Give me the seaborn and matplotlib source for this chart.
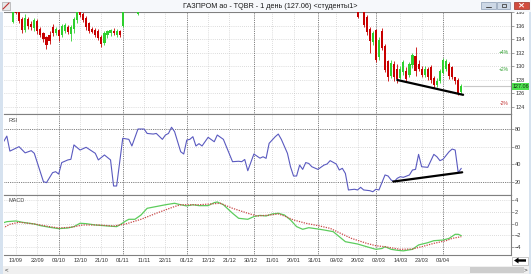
import matplotlib
matplotlib.use("Agg")
import matplotlib.pyplot as plt
import matplotlib.transforms as mtransforms
from matplotlib.patches import Rectangle, Polygon
import seaborn as sns

# ---------------- data ----------------
title = "ГАЗПРОМ ао - TQBR - 1 день (127.06) <студенты1>"
date_labels = ["13/09", "22/09", "03/10", "12/10", "21/10", "01/11", "11/11",
               "22/11", "01/12", "12/12", "21/12", "30/12", "11/01", "20/01",
               "31/01", "09/02", "20/02", "02/03", "14/03", "23/03", "03/04"]
label_idx = [0, 7, 14, 21, 28, 35, 42, 49, 56, 63, 70, 77, 84, 91, 98, 105,
             112, 119, 126, 133, 140]
month_idx = [14, 35, 56, 78, 99, 118, 140]

# visible candles (bar index, open, high, low, close)
candle_idx = [-1, 0, 1, 2, 3, 4, 5, 6, 7, 8, 9, 10, 11, 12, 13, 14, 15, 16, 17,
              18, 19, 20, 21, 22, 23, 24, 25, 26, 27, 28, 29, 30, 31, 32, 33,
              34, 35, 40,
              112, 114, 115, 116, 117, 118, 119, 120, 121, 122, 123, 124, 125,
              126, 127, 128, 129, 130, 131, 132, 133, 134, 135, 136, 137, 138,
              139, 140, 141, 142, 143, 144, 145, 146]
opens = [136.6, 138.6, 138.0, 137.0, 135.4, 137.1, 136.3, 135.7, 136.8, 135.5,
         134.9, 134.3, 134.6, 135.9, 134.9, 135.4, 134.6, 135.3, 135.9, 134.8,
         135.5, 136.9, 138.8, 137.7, 137.2, 136.4, 135.6, 135.4, 135.2, 134.4,
         133.5, 134.6, 134.9, 135.3, 134.7, 135.2, 136.0, 137.8,
         138.3, 138.6, 137.3, 135.6, 133.6, 135.4, 131.4, 135.3, 133.0, 130.8,
         128.6, 130.4, 129.7, 128.3, 129.2, 129.4, 128.8, 130.2, 131.6, 130.3,
         129.7, 128.7, 129.6, 129.9, 128.3, 127.2, 127.8, 129.1, 129.6, 130.4,
         129.9, 128.4, 128.0, 126.2]
highs = [138.8, 139.0, 138.3, 137.4, 137.8, 137.3, 136.8, 137.2, 137.0, 135.8,
         135.1, 134.5, 135.2, 136.3, 135.8, 135.6, 136.3, 136.4, 136.1, 136.2,
         137.4, 138.6, 139.1, 138.0, 137.5, 136.6, 135.9, 135.7, 135.5, 134.7,
         135.2, 135.4, 135.6, 135.7, 135.5, 135.4, 139.5, 139.4,
         138.6, 138.9, 137.6, 135.9, 135.3, 135.6, 134.3, 135.7, 133.4, 131.0,
         130.9, 130.8, 130.3, 130.0, 131.0, 129.9, 130.6, 132.0, 132.9, 131.0,
         130.1, 130.0, 129.9, 130.2, 128.6, 128.3, 129.6, 131.3, 131.1, 130.6,
         130.1, 128.5, 128.3, 127.4]
lows = [136.4, 137.7, 136.4, 134.9, 135.1, 135.6, 135.4, 135.3, 134.8, 134.3,
        133.6, 132.6, 133.3, 134.5, 134.6, 133.8, 134.3, 134.9, 134.8, 133.8,
        135.0, 136.4, 137.3, 136.6, 135.4, 135.0, 134.9, 134.4, 133.9, 132.9,
        133.2, 134.2, 134.5, 134.6, 134.4, 134.3, 135.9, 137.6,
        137.2, 135.9, 134.7, 132.0, 133.2, 130.6, 131.0, 132.4, 129.2, 127.9,
        128.3, 127.9, 127.6, 128.1, 128.8, 127.8, 128.5, 129.8, 128.6, 129.3,
        128.4, 128.4, 128.0, 127.6, 126.8, 126.9, 127.5, 128.9, 129.3, 128.2,
        128.2, 127.4, 125.8, 125.9]
closes = [138.4, 137.9, 136.8, 135.4, 137.2, 136.0, 135.8, 136.9, 135.2, 134.6,
          134.0, 133.2, 133.8, 135.0, 135.6, 134.5, 136.0, 136.1, 135.1, 135.9,
          137.1, 138.4, 137.6, 136.9, 135.8, 135.3, 135.1, 134.7, 134.2, 133.3,
          134.9, 135.2, 135.4, 134.9, 135.3, 134.6, 139.2, 139.1,
          137.4, 136.2, 135.1, 133.8, 135.0, 131.0, 133.9, 132.8, 129.5, 128.4,
          130.5, 128.5, 128.1, 129.6, 130.6, 128.1, 130.3, 131.7, 129.4, 129.7,
          128.7, 129.7, 128.4, 128.0, 127.2, 127.9, 129.3, 131.0, 130.8, 128.6,
          128.5, 127.8, 126.1, 127.06]
last_close = 127.06
pct_levels = [4, 2, -2]

price_trend_x = [125, 146.6]
price_trend_y = [128.0, 125.8]

rsi_idx = [-4, -3, -2, 1, 3, 5, 6, 9, 10, 12, 13, 14, 15, 17, 18, 19, 21, 23,
           26, 27, 29, 31, 32, 33, 35, 37, 38, 40, 42, 43, 45, 46, 48, 49, 50,
           51, 52, 54, 55, 56, 57, 58, 59, 60, 61, 63, 65, 66, 68, 71, 73, 74,
           75, 76, 78, 80, 81, 82, 83, 85, 86, 87, 89, 90, 91, 92, 93, 94, 95,
           96, 97, 99, 101, 102, 103, 105, 106, 107, 108, 109, 111, 112, 113,
           114, 116, 117, 118, 119, 121, 122, 123, 124, 125, 126, 127, 129,
           130, 131, 132, 133, 135, 137, 138, 139, 140, 142, 143, 144, 145, 146]
rsi_vals = [66, 72, 55, 60, 53, 55.5, 52.5, 20.4, 19.3, 30.6, 31.7, 29, 42, 45,
            45.7, 62, 56.2, 59.3, 52.5, 45, 50.6, 45, 15.5, 15.5, 69.5, 68.3,
            60.8, 80, 80, 75, 74.3, 75, 68.3, 73.2, 75, 82, 77, 54.3, 51.7,
            67.5, 68.3, 71.3, 60.8, 63.4, 60.8, 70.6, 65.6, 73.2, 68.3, 43,
            43.5, 43, 45.5, 32.8, 51.7, 47, 48.6, 46.8, 63.8, 71.3, 74.3, 68.3,
            52.5, 37.3, 26.8, 26.8, 39.2, 34.3, 42, 41, 37.3, 34.3, 39.2, 40.4,
            44.2, 40.4, 33.6, 35.5, 29.7, 11, 11.8, 11, 14, 11, 10.2, 9, 11.8,
            11, 28, 26.8, 22.3, 20.4, 24.2, 26, 25.3, 28, 33.6, 34.3, 51.3,
            37.3, 36.6, 51.3, 48.6, 44.2, 45.7, 54.3, 57.3, 56.2, 30.6, 35.5]
rsi_trend_x = [123.7, 146.3]
rsi_trend_y = [20.5, 31.0]

macd_idx = [-5, -3, 0, 2, 6, 8, 11, 14, 17, 19, 21, 23, 26, 30, 33, 34, 36, 37,
            39, 41, 43, 46, 49, 52, 54, 56, 58, 60, 63, 65, 66, 68, 71, 73, 76,
            78, 80, 82, 84, 86, 88, 90, 92, 94, 96, 99, 101, 104, 106, 108,
            112, 115, 118, 120, 121, 123, 125, 127, 130, 132, 135, 137, 140,
            142, 144, 145, 146]
macd_vals = [0.0, 0.34, 0.46, 0.24, -0.05, -0.33, -0.61, -0.84, -0.73, -0.5,
             0.07, 0.0, -0.22, -0.39, -0.5, -0.22, 0.46, 0.74, 0.74, 1.47, 2.6,
             2.9, 3.2, 3.45, 3.2, 3.0, 3.2, 3.05, 3.05, 3.56, 3.67, 3.2, 1.76,
             0.91, 0.74, 1.2, 1.4, 1.3, 1.64, 1.76, 1.47, 0.63, -0.5, -0.95,
             -0.68, -0.9, -1.07, -1.35, -2.2, -3.05, -3.44, -3.9, -4.34, -4.2,
             -3.9, -4.34, -4.5, -4.6, -4.34, -3.6, -3.22, -2.88, -2.77, -2.49,
             -1.8, -1.8, -2.03]
signal_idx = [-5, -2, 1, 6, 11, 14, 18, 22, 27, 32, 36, 41, 46, 52, 54, 60, 67,
              71, 76, 79, 83, 86, 88, 91, 95, 99, 103, 106, 110, 115, 118, 121,
              126, 130, 133, 137, 141, 143, 146]
signal_vals = [-0.95, -0.1, 0.24, -0.05, -0.5, -0.73, -0.61, -0.22, -0.22,
               -0.39, -0.05, 0.74, 1.76, 2.9, 3.2, 3.2, 3.45, 2.6, 1.76, 1.3,
               1.45, 1.64, 1.3, 0.63, 0.07, -0.33, -0.79, -1.53, -2.49, -3.33,
               -3.73, -3.9, -4.34, -4.28, -3.9, -3.33, -2.88, -2.49, -2.2]

price_ticks = [124, 126, 128, 130, 132, 134, 136, 138]
rsi_ticks = [20, 40, 60, 80]
macd_ticks = [-4, -2, 0, 2, 4]

# ---------------- style ----------------
sns.set_style("white")
plt.rcParams['font.family'] = ['Liberation Sans', 'DejaVu Sans']

GREEN = "#2ed02e"
RED = "#c80000"
GRID = "#bdbdbd"
HEAVY = "#555555"

fig = plt.figure(figsize=(5.31, 2.74), dpi=100)
fig.patch.set_facecolor("white")
L, W = 4 / 531, 507 / 531
ax_p = fig.add_axes([L, 1 - 114 / 274, W, 102 / 274])
ax_r = fig.add_axes([L, 1 - 195 / 274, W, 81 / 274], sharex=ax_p)
ax_m = fig.add_axes([L, 1 - 255 / 274, W, 60 / 274], sharex=ax_p)


def style(ax, ticks, lims, heavy=()):
    ax.set_facecolor("white")
    ax.set_ylim(*lims)
    ax.set_yticks(ticks)
    ax.yaxis.tick_right()
    ax.tick_params(axis="y", length=2, width=0.5, color="#808080",
                   labelsize=4, pad=1, labelcolor="#333333")
    ax.tick_params(axis="x", length=0, labelbottom=False)
    ax.spines["left"].set_visible(False)
    for s in ("top", "bottom", "right"):
        ax.spines[s].set_color("#808080")
        ax.spines[s].set_linewidth(0.8)
    ax.grid(False)
    for t in ticks:
        if t in heavy:
            ax.axhline(t, color=HEAVY, lw=0.6, ls=(0, (1, 1.2)), zorder=0)
        else:
            ax.axhline(t, color=GRID, lw=0.5, ls=(0, (1, 2)), zorder=0)
    for xi in label_idx:
        if min(abs(xi - m) for m in month_idx) > 2:
            ax.axvline(xi, color=GRID, lw=0.5, ls=(0, (1, 2)), zorder=0)
    for m in month_idx:
        ax.axvline(m, color=HEAVY, lw=0.6, ls=(0, (1, 1.2)), zorder=0)


style(ax_p, price_ticks, (122.96, 138.07))
style(ax_r, rsi_ticks, (5.3, 97.0), heavy=(20, 80))
style(ax_m, macd_ticks, (-5.3, 4.85))
ax_p.set_xlim(-3.93, 162.3)

# ---- candles ----
for i, o, h, l, c in zip(candle_idx, opens, highs, lows, closes):
    col = GREEN if c >= o else RED
    ax_p.vlines(i, l, h, color=col, lw=0.6, zorder=2)
    ax_p.bar(i, c - o if abs(c - o) > 0.05 else 0.08, bottom=o, width=0.7,
             color=col, linewidth=0, zorder=3)

sns.lineplot(x=price_trend_x, y=price_trend_y, ax=ax_p, color="black",
             linewidth=1.6, zorder=4)
ax_p.hlines(last_close, candle_idx[-1] + 0.5, 162.3, color="#c8c8c8", lw=0.8,
            zorder=1)
tr = mtransforms.blended_transform_factory(ax_p.transAxes, ax_p.transData)
for p in pct_levels:
    ax_p.text(0.996, last_close * (1 + p / 100), f"{p:+d}%", transform=tr,
              ha="right", va="center", fontsize=3.6,
              color="#2f9f2f" if p > 0 else "#c03030")
ax_p.text(1.004, last_close, f"{last_close:.2f}", transform=tr, ha="left",
          va="center", fontsize=3.9, color="#103010", clip_on=False,
          bbox=dict(boxstyle="square,pad=0.15", fc="#4ee04e", ec="none"),
          zorder=6)

# ---- RSI ----
sns.lineplot(x=rsi_idx, y=rsi_vals, ax=ax_r, color="#5a5ac0", linewidth=0.8,
             zorder=3)
sns.lineplot(x=rsi_trend_x, y=rsi_trend_y, ax=ax_r, color="black",
             linewidth=1.6, zorder=4)
ax_r.text(0.008, 0.925, "RSI", transform=ax_r.transAxes, fontsize=4,
          color="#444444", va="center")

# ---- MACD ----
sns.lineplot(x=macd_idx, y=macd_vals, ax=ax_m, color="#5ccc5c", linewidth=0.9,
             zorder=3)
sns.lineplot(x=signal_idx, y=signal_vals, ax=ax_m, color="#c84848",
             linewidth=0.9, linestyle=(0, (1, 1)), zorder=4)
ax_m.text(0.008, 0.905, "MACD", transform=ax_m.transAxes, fontsize=4,
          color="#444444", va="center")
ax_m.set_xticks(label_idx)
ax_m.set_xticklabels(date_labels)
ax_m.tick_params(axis="x", length=0, labelbottom=True, labelsize=4, pad=2.2,
                 labelcolor="#333333")
for ax in (ax_p, ax_r, ax_m):
    ax.set_xlabel("")
    ax.set_ylabel("")
    if ax.get_legend():
        ax.get_legend().remove()

# ---- window decorations (pixel overlay) ----
deco = fig.add_axes([0, 0, 1, 1], zorder=10)
deco.set_xlim(0, 531)
deco.set_ylim(274, 0)
deco.axis("off")
deco.patch.set_alpha(0)
deco.add_patch(Rectangle((0, 0), 531, 12, fc="#f6f8fb", ec="none"))
deco.add_patch(Rectangle((0, 12), 3, 262, fc="#d6e2ef", ec="none"))
deco.add_patch(Rectangle((529, 12), 2, 262, fc="#d6e2ef", ec="none"))
deco.add_patch(Rectangle((2, 2), 8, 8, fc="#e8e8e8", ec="#9a9a9a", lw=0.4))
deco.plot([3, 9], [9, 3], color="#c03030", lw=0.8)
deco.text(270, 6.2, title, ha="center", va="center", fontsize=5.2,
          color="#1a1a1a")
for x0, w in ((481, 15), (497, 13)):
    deco.add_patch(Rectangle((x0, 1.5), w, 7.5, fc="#cdd8e6", ec="#8b9db5",
                             lw=0.5))
deco.plot([486, 491], [6.5, 6.5], color="#444444", lw=0.7)
deco.add_patch(Rectangle((501.5, 3.5), 4, 3.5, fc="none", ec="#444444",
                         lw=0.6))
deco.add_patch(Rectangle((514, 1.5), 15, 7.5, fc="#d24c3e", ec="#9a2f25",
                         lw=0.5))
deco.plot([519.5, 523.5], [3.5, 7], color="white", lw=0.7)
deco.plot([519.5, 523.5], [7, 3.5], color="white", lw=0.7)
# scrollbar
deco.add_patch(Rectangle((3, 265.5), 526, 8.5, fc="#f0f0f0", ec="none"))
deco.add_patch(Rectangle((470, 266.5), 54, 6.5, fc="#cdcdcd", ec="none"))
deco.text(5, 269.8, "<", fontsize=4.5, va="center", ha="left", color="#333333")
deco.text(527, 269.8, ">", fontsize=4.5, va="center", ha="right",
          color="#333333")
# arrow button
deco.add_patch(Rectangle((512, 256.5), 16, 8, fc="white", ec="#a0a0a0",
                         lw=0.4))
deco.add_patch(Polygon([(514, 260.5), (518.5, 257.5), (518.5, 259.3),
                        (526, 259.3), (526, 261.7), (518.5, 261.7),
                        (518.5, 263.5)], closed=True, fc="black", ec="none"))

fig.savefig("out.png", dpi=100, facecolor="white")
